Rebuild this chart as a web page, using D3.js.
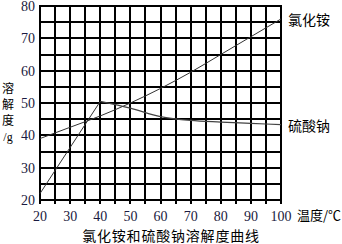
<!DOCTYPE html>
<html><head><meta charset="utf-8">
<script src="https://cdn.jsdelivr.net/npm/d3@7"></script>
<style>html,body{margin:0;padding:0;background:#fff;}</style>
</head><body>
<script>
const xTicks = [20,30,40,50,60,70,80,90,100];
const yTicks = [20,30,40,50,60,70,80];
const nh4clT = [20,30,40,50,60,70,80,90,100];
const nh4clV = [39,42.5,46,50,54.5,59.5,65,70.5,76];
const na2so4RiseT = [20,40];
const na2so4RiseV = [22,50.5];
const na2so4FallT = [40,50,60,70,80,90,100];
const na2so4FallV = [50.5,48.4,45.8,44.6,44.1,43.7,43.3];
const seriesNames = ["氯化铵","硫酸钠"];
const title = "氯化铵和硫酸钠溶解度曲线";
const yLabel = ["溶","解","度","/g"];
const xLabel = "温度/℃";

const W=342,H=244;
const svg=d3.select("body").append("svg").attr("width",W).attr("height",H);
const x=d3.scaleLinear().domain([20,100]).range([40,281]);
const y=d3.scaleLinear().domain([20,80]).range([200,6]);
const gridX=d3.range(20,101,5), gridY=d3.range(20,81,5);
const px=v=>Math.round(v);

// grid
svg.append("g").selectAll("line").data(gridX).join("line")
 .attr("x1",d=>px(x(d))).attr("x2",d=>px(x(d))).attr("y1",px(y(80))-1).attr("y2",px(y(20))+4)
 .attr("stroke","#000").attr("stroke-width",2);
svg.append("g").selectAll("line").data(gridY).join("line")
 .attr("y1",d=>px(y(d))).attr("y2",d=>px(y(d))).attr("x1",px(x(20))-1).attr("x2",px(x(100))+1)
 .attr("stroke","#000").attr("stroke-width",2);

const numFont='"Liberation Serif","Times New Roman",serif';
const cjk='"Noto Sans CJK SC",sans-serif';
svg.append("g").selectAll("text").data(yTicks).join("text")
 .attr("x",35).attr("y",d=>Math.max(y(d),6.5)).attr("dy","0.35em").attr("text-anchor","end")
 .attr("font-family",numFont).attr("font-size",14).attr("fill","#1a1a40").text(d=>d);
svg.append("g").selectAll("text").data(xTicks).join("text")
 .attr("x",d=>x(d)).attr("y",221).attr("text-anchor","middle")
 .attr("font-family",numFont).attr("font-size",14).attr("fill","#1a1a40").text(d=>d);

// lines
const ln=(T,V,c)=>d3.line().x((d,i)=>x(T[i])).y((d,i)=>y(V[i])).curve(c)(V);
svg.append("path").attr("d",ln(nh4clT,nh4clV,d3.curveMonotoneX)).attr("fill","none").attr("stroke","#333").attr("stroke-width",1);
svg.append("path").attr("d",ln(na2so4RiseT,na2so4RiseV,d3.curveLinear)).attr("fill","none").attr("stroke","#333").attr("stroke-width",1);
svg.append("path").attr("d",ln(na2so4FallT,na2so4FallV,d3.curveMonotoneX)).attr("fill","none").attr("stroke","#444").attr("stroke-width",1.2);

// labels
svg.append("text").attr("x",288).attr("y",y(nh4clV[nh4clV.length-1])+6).attr("font-family",cjk).attr("font-size",14).attr("fill","#000").text(seriesNames[0]);
svg.append("text").attr("x",288).attr("y",y(na2so4FallV[na2so4FallV.length-1])+6).attr("font-family",cjk).attr("font-size",14).attr("fill","#000").text(seriesNames[1]);
svg.append("g").selectAll("text").data(yLabel).join("text")
 .attr("x",8).attr("y",(d,i)=>93+i*16).attr("text-anchor","middle")
 .attr("font-family",(d,i)=>i<3?cjk:numFont).attr("font-size",12).attr("fill","#000").text(d=>d);
svg.append("text").attr("x",297).attr("y",220).attr("font-family",cjk).attr("font-size",13).attr("fill","#000").text(xLabel);
svg.append("text").attr("x",171).attr("y",241).attr("text-anchor","middle").attr("font-family",cjk).attr("font-size",14).attr("letter-spacing",0.8).attr("fill","#000").text(title);
</script>
</body></html>
